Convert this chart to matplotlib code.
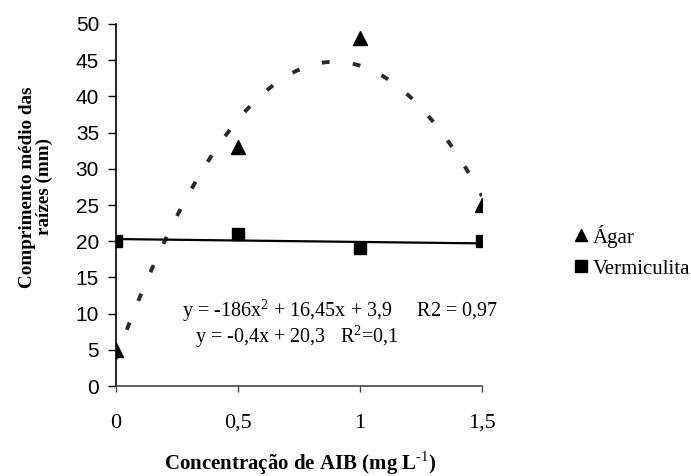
import matplotlib
matplotlib.use("Agg")
import matplotlib.pyplot as plt
import numpy as np

# data
conc = [0, 0.5, 1, 1.5]
agar = [5, 33, 48, 25]
vermiculita = [20, 21, 19, 20]
xticks = [0, 0.5, 1, 1.5]
xtick_labels = ["0", "0,5", "1", "1,5"]
yticks = list(range(0, 55, 5))

serif = "Liberation Serif"
sans = "Liberation Sans"

plt.rcParams["mathtext.fontset"] = "custom"
plt.rcParams["mathtext.rm"] = serif
plt.rcParams["mathtext.bf"] = serif + ":bold"

fig = plt.figure(figsize=(6.91, 4.76), dpi=100)
ax = fig.add_axes([0.1675, 0.189, 0.53, 0.7606])

# trendlines (Excel-style fits)
xx = np.linspace(0, 1.5, 200)
p2 = np.polyfit(conc, agar, 2)
p1 = np.polyfit(conc, vermiculita, 1)
ax.plot(xx, np.polyval(p2, xx), color="#2a2a2a", lw=2.8,
        dashes=(2.0, 6.0), dash_capstyle="butt", zorder=2)
ax.plot(xx, np.polyval(p1, xx), color="black", lw=1.6, zorder=2)

l1, = ax.plot(conc, agar, "^", color="black", ms=10, ls="none", zorder=3)
l2, = ax.plot(conc, vermiculita, "s", color="black", ms=9, ls="none", zorder=3)

ax.set_xlim(0, 1.5)
ax.set_ylim(0, 50)
ax.set_xticks(xticks)
ax.set_xticklabels(xtick_labels, fontfamily=serif, fontsize=16)
ax.set_yticks(yticks)
ax.set_yticklabels([str(v) for v in yticks], fontfamily=sans, fontsize=15)
ax.tick_params(axis="x", length=4, width=1, pad=16, color="#444444")
ax.tick_params(axis="y", length=6, width=1, pad=6)
ax.spines["top"].set_visible(False)
ax.spines["right"].set_visible(False)
ax.spines["bottom"].set_color("#444444")
ax.spines["bottom"].set_linewidth(1.2)
ax.spines["left"].set_linewidth(1.2)
for s in ax.spines.values():
    s.set_clip_on(False)

# axis titles placed to match the original
fig.text(300 / 691, 1 - 463 / 476, "Concentração de AIB (mg L$^{\\text{-1}}$)",
         fontfamily=serif, fontsize=15, fontweight="bold", ha="center", va="center")
fig.text(36 / 691, 1 - 187 / 476, "Comprimento médio das\nraízes (mm)",
         fontfamily=serif, fontsize=13.8, fontweight="bold", linespacing=1.0,
         rotation=90, ha="center", va="center", multialignment="center")

ax.text(0.271, 9.5, "y = -186x$^2$ + 16,45x + 3,9     R2 = 0,97",
        fontfamily=serif, fontsize=14.5, va="baseline", clip_on=False)
ax.text(0.325, 6.0, "y = -0,4x + 20,3   R$^2$=0,1",
        fontfamily=serif, fontsize=14.5, va="baseline", clip_on=False)

leg = ax.legend([l1, l2], ["Ágar", "Vermiculita"], loc="center left",
                bbox_to_anchor=(1.254, 0.3715), frameon=False,
                prop={"family": serif, "size": 15}, handlelength=0.6,
                handletextpad=0.27, borderpad=0, borderaxespad=0,
                labelspacing=0.55, markerscale=0.93)

fig.savefig("out.png", dpi=100)
